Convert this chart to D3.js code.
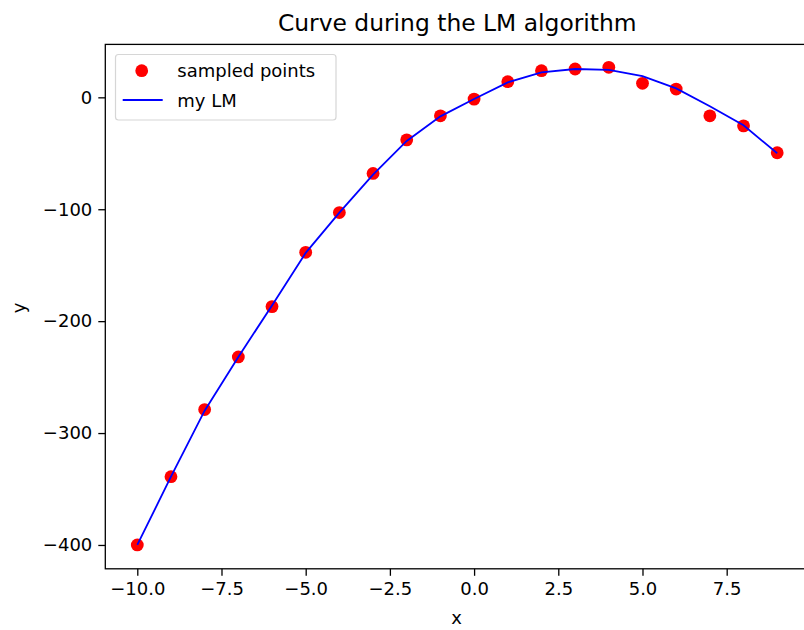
<!DOCTYPE html>
<html lang="en">
<head>
    <meta charset="UTF-8">
    <title>LM curve</title>
    <script src="https://cdn.jsdelivr.net/npm/d3@7"></script>
    <style>
        body { margin: 0; background: #fff; }
        text { font-family: "DejaVu Sans", sans-serif; fill: #000; }
    </style>
</head>
<body>
    <svg id="chart" width="804" height="630"></svg>

    <script>
        // sampled x values
        var xValues = [-10, -9, -8, -7, -6, -5, -4, -3, -2, -1, 0, 1, 2, 3, 4, 5, 6, 7, 8, 9];
        // red dots (sampled points)
        var sampledY = [-400, -339, -279, -232, -187, -138.5, -103, -68, -38, -16.5, -1.6, 14, 23.8, 25.3, 26.8, 12.5, 7.4, -16.5, -25.5, -49.5];
        // blue line (my LM)
        var lmY = [-400, -339, -280, -232, -186, -139, -103, -69, -39, -17, -1.5, 13.4, 22.3, 25.3, 24.6, 19, 8, -8, -25, -50];
        var xTicks = [-10, -7.5, -5, -2.5, 0, 2.5, 5, 7.5];
        var yTicks = [0, -100, -200, -300, -400];

        // plot area (note: "top" is reserved on window, so use other names)
        var axLeft = 105.3, axRight = 809.2, axTop = 44.4, axBottom = 568.8;

        var xScale = d3.scaleLinear().domain([-10.95, 9.95]).range([axLeft, axRight]);
        var yScale = d3.scaleLinear().domain([-421.3, 47.3]).range([axBottom, axTop]);

        var svg = d3.select("#chart");
        var fmtX = d => d3.format(".1f")(d).replace("-", "\u2212");
        var fmtY = d => String(d).replace("-", "\u2212");

        // x axis
        var xAxis = d3.axisBottom(xScale).tickValues(xTicks).tickFormat(fmtX)
            .tickSizeInner(7).tickSizeOuter(0).tickPadding(6);
        var gx = svg.append("g").attr("transform", `translate(0,${axBottom})`).call(xAxis);
        // y axis
        var yAxis = d3.axisLeft(yScale).tickValues(yTicks).tickFormat(fmtY)
            .tickSizeInner(7).tickSizeOuter(0).tickPadding(6);
        var gy = svg.append("g").attr("transform", `translate(${axLeft},0)`).call(yAxis);

        [gx, gy].forEach(g => {
            g.select(".domain").remove();
            g.selectAll(".tick line").attr("stroke", "#000").attr("stroke-width", 1.3);
            g.selectAll(".tick text").style("font-size", "18px").style("font-family", "DejaVu Sans");
        });

        // spines
        svg.append("rect")
            .attr("x", axLeft).attr("y", axTop)
            .attr("width", axRight - axLeft).attr("height", axBottom - axTop)
            .attr("fill", "none").attr("stroke", "#000").attr("stroke-width", 1.3);

        var line = d3.line()
            .x((d, i) => xScale(xValues[i]))
            .y(d => yScale(d));

        // sampled points
        svg.append("g")
            .selectAll("circle")
            .data(sampledY)
            .enter()
            .append("circle")
            .attr("cx", (d, i) => xScale(xValues[i]))
            .attr("cy", d => yScale(d))
            .attr("r", 6.4)
            .attr("fill", "#ff0000");

        // fitted line on top of the dots
        svg.append("path")
            .attr("d", line(lmY))
            .attr("fill", "none")
            .attr("stroke", "#0000ff")
            .attr("stroke-width", 1.8);

        // title and axis labels
        svg.append("text")
            .attr("x", (axLeft + axRight) / 2).attr("y", 31)
            .attr("text-anchor", "middle")
            .style("font-size", "23.4px")
            .text("Curve during the LM algorithm");
        svg.append("text")
            .attr("x", 456.5).attr("y", 624)
            .attr("text-anchor", "middle")
            .style("font-size", "18px")
            .text("x");
        svg.append("text")
            .attr("transform", "translate(25,308) rotate(-90)")
            .attr("text-anchor", "middle")
            .style("font-size", "18px")
            .text("y");

        // legend
        var legend = svg.append("g");
        legend.append("rect")
            .attr("x", 115.5).attr("y", 54.5)
            .attr("width", 220.5).attr("height", 65.5)
            .attr("rx", 3)
            .attr("fill", "#fff").attr("fill-opacity", 0.8)
            .attr("stroke", "#d6d6d6").attr("stroke-width", 1.2);
        legend.append("circle")
            .attr("cx", 141.7).attr("cy", 70.7).attr("r", 6.4)
            .attr("fill", "#ff0000");
        legend.append("line")
            .attr("x1", 122.7).attr("x2", 162.7)
            .attr("y1", 100).attr("y2", 100)
            .attr("stroke", "#0000ff").attr("stroke-width", 1.8);
        legend.append("text")
            .attr("x", 177.3).attr("y", 77)
            .style("font-size", "18px")
            .text("sampled points");
        legend.append("text")
            .attr("x", 177.3).attr("y", 106.5)
            .style("font-size", "18px")
            .text("my LM");
    </script>
</body>
</html>
